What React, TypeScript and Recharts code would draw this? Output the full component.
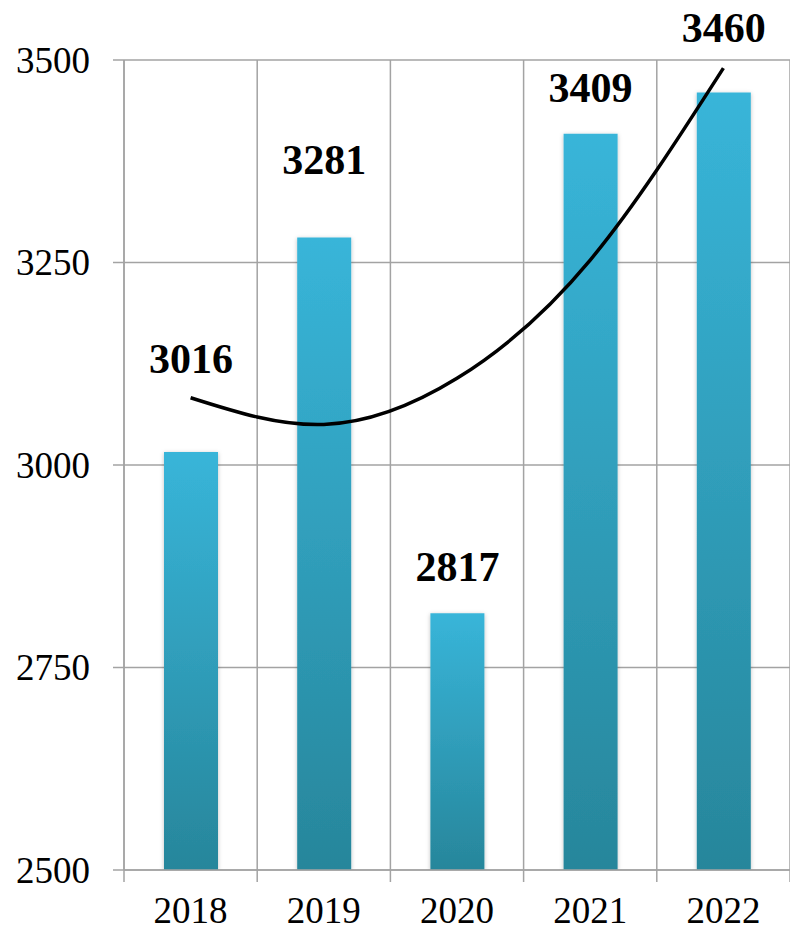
import React from 'react';
import { ComposedChart, Bar, Line, XAxis, YAxis, CartesianGrid, LabelList } from 'recharts';

const years = ['2018', '2019', '2020', '2021', '2022'];
const values = [3016, 3281, 2817, 3409, 3460];
// trendline values at each year
const trend = [3083, 3050, 3107, 3253, 3490];
const yTicks = [2500, 2750, 3000, 3250, 3500];

// label baseline lift above each bar top (layout)
const labelLift = [79, 63, 32, 32, 50];

const data = years.map((y, i) => ({ year: y, value: values[i], trend: trend[i] }));

const W = 790;
const H = 935;
const LEFT = 124;
const TOP = 60;
const BOTTOM_AXIS = 870;
const XAXIS_H = 60;
const FONT = '"Liberation Serif", "Times New Roman", serif';
const GRID = '#a3a3a3';

const bandW = (W - LEFT) / years.length;

const XTick = (props: any) => {
  const { x, y, payload, index } = props;
  const left = x - bandW / 2;
  return (
    <g>
      <line x1={left} x2={left} y1={y} y2={y + 12} stroke={GRID} strokeWidth={1.5} />
      {index === years.length - 1 ? (
        <line x1={x + bandW / 2} x2={x + bandW / 2} y1={y} y2={y + 12} stroke={GRID} strokeWidth={1.5} />
      ) : null}
      <text x={x} y={y + 53} textAnchor="middle" fontSize={37} fontFamily={FONT} fill="#000">
        {payload.value}
      </text>
    </g>
  );
};

const YTick = (props: any) => {
  const { x, y, payload } = props;
  return (
    <text x={x} y={y + 12.5} textAnchor="end" fontSize={37} fontFamily={FONT} fill="#000">
      {payload.value}
    </text>
  );
};

const BarLabel = (props: any) => {
  const { x, y, width, value, index } = props;
  return (
    <text
      x={x + width / 2}
      y={y - labelLift[index]}
      textAnchor="middle"
      fontSize={42}
      fontWeight="bold"
      fontFamily={FONT}
      fill="#000"
    >
      {value}
    </text>
  );
};

export default function App() {
  return (
    <div style={{ position: 'absolute', left: 0, top: 0, width: W, height: H, overflow: 'hidden', background: '#fff' }}>
      <ComposedChart
        width={W}
        height={H}
        data={data}
        margin={{ top: TOP, right: 0, bottom: H - BOTTOM_AXIS - XAXIS_H, left: 0 }}
        barCategoryGap={0}
      >
        <defs>
          <linearGradient id="barGrad" x1="0" y1="0" x2="0" y2="1">
            <stop offset="0%" stopColor="#38b5d9" />
            <stop offset="100%" stopColor="#27869b" />
          </linearGradient>
          <filter id="barShadow" x="-20%" y="-5%" width="140%" height="110%">
            <feDropShadow dx="0" dy="1" stdDeviation="2" floodColor="#000" floodOpacity="0.25" />
          </filter>
        </defs>
        <CartesianGrid
          stroke={GRID}
          strokeWidth={1.5}
          verticalCoordinatesGenerator={({ offset }: any) =>
            years.map((_, i) => offset.left + (i * offset.width) / years.length).concat([offset.left + offset.width])
          }
        />
        <XAxis
          dataKey="year"
          height={XAXIS_H}
          axisLine={{ stroke: GRID, strokeWidth: 1.5 }}
          tickLine={false}
          tickSize={0}
          tickMargin={0}
          tick={<XTick />}
          interval={0}
        />
        <YAxis
          width={LEFT}
          domain={[2500, 3500]}
          ticks={yTicks}
          allowDataOverflow
          axisLine={{ stroke: GRID, strokeWidth: 1.5 }}
          tickLine={{ stroke: GRID, strokeWidth: 1.5 }}
          tickSize={11}
          tickMargin={23}
          tick={<YTick />}
          interval={0}
        />
        <Bar dataKey="value" barSize={54} fill="url(#barGrad)" filter="url(#barShadow)" isAnimationActive={false}>
          <LabelList dataKey="value" content={<BarLabel />} />
        </Bar>
        <Line
          dataKey="trend"
          type="natural"
          stroke="#000"
          strokeWidth={3.5}
          dot={false}
          activeDot={false}
          isAnimationActive={false}
        />
      </ComposedChart>
    </div>
  );
}
